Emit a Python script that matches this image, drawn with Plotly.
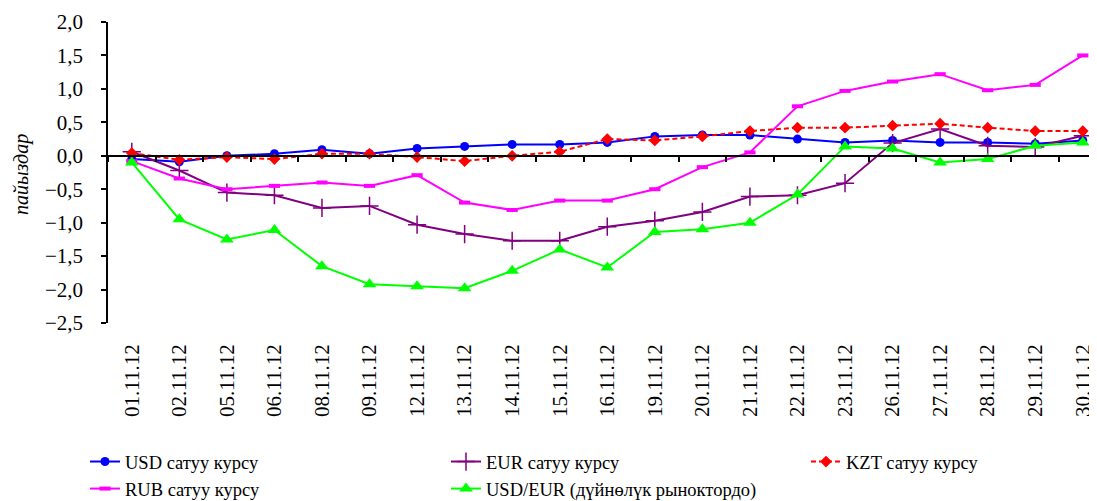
import plotly.graph_objects as go

dates = ['01.11.12', '02.11.12', '05.11.12', '06.11.12', '08.11.12', '09.11.12',
         '12.11.12', '13.11.12', '14.11.12', '15.11.12', '16.11.12', '19.11.12',
         '20.11.12', '21.11.12', '22.11.12', '23.11.12', '26.11.12', '27.11.12',
         '28.11.12', '29.11.12', '30.11.12']

usd = [-0.05, -0.09, 0.00, 0.03, 0.09, 0.03, 0.11, 0.14, 0.17, 0.17, 0.20, 0.29,
       0.31, 0.31, 0.25, 0.20, 0.23, 0.20, 0.20, 0.18, 0.23]
eur = [0.06, -0.22, -0.55, -0.59, -0.78, -0.75, -1.03, -1.17, -1.27, -1.27, -1.06,
       -0.97, -0.84, -0.61, -0.59, -0.41, 0.19, 0.40, 0.15, 0.13, 0.30]
kzt = [0.04, -0.06, -0.02, -0.05, 0.03, 0.03, -0.02, -0.08, 0.00, 0.06, 0.25, 0.23,
       0.29, 0.37, 0.42, 0.42, 0.45, 0.48, 0.42, 0.37, 0.37]
rub = [-0.08, -0.34, -0.50, -0.45, -0.40, -0.45, -0.29, -0.70, -0.81, -0.67, -0.67,
       -0.50, -0.17, 0.05, 0.74, 0.97, 1.11, 1.22, 0.98, 1.06, 1.50]
usdeur = [-0.10, -0.95, -1.25, -1.11, -1.65, -1.92, -1.95, -1.98, -1.72, -1.40, -1.67,
          -1.14, -1.10, -1.00, -0.58, 0.14, 0.11, -0.10, -0.05, 0.15, 0.20]

names = ['USD сатуу курсу', 'EUR сатуу курсу', 'KZT сатуу курсу',
         'RUB сатуу курсу', 'USD/EUR (дүйнөлүк рыноктордо)']
y_ticks = [2.0, 1.5, 1.0, 0.5, 0.0, -0.5, -1.0, -1.5, -2.0, -2.5]
y_title = 'пайыздар'

FONT = 'Liberation Serif, Times New Roman, serif'
OFF = 8                      # page body margin of the html page
W, H = 1097, 501
L = 108 - OFF
T = 22 - OFF
B = H - (323 - OFF)
step = 47.55
xr = [-0.5, -0.5 + (W - L) / step]

fig = go.Figure()
fig.add_trace(go.Scatter(x=dates, y=usd, name=names[0], mode='lines+markers',
                         line=dict(color='#0000FF', width=2),
                         marker=dict(symbol='circle', size=9, color='#0000FF'),
                         legend='legend'))
fig.add_trace(go.Scatter(x=dates, y=eur, name=names[1], mode='lines+markers',
                         line=dict(color='#800080', width=2),
                         marker=dict(symbol='cross-thin', size=13,
                                     line=dict(color='#800080', width=1.5)),
                         legend='legend2'))
fig.add_trace(go.Scatter(x=dates, y=kzt, name=names[2], mode='lines+markers',
                         line=dict(color='#FF0000', width=2, dash='5px,3px'),
                         marker=dict(symbol='diamond', size=9, color='#FF0000'),
                         legend='legend3'))
fig.add_trace(go.Scatter(x=dates, y=rub, name=names[3], mode='lines+markers',
                         line=dict(color='#FF00FF', width=2),
                         marker=dict(symbol='line-ew', size=8,
                                     line=dict(color='#FF00FF', width=4)),
                         legend='legend'))
fig.add_trace(go.Scatter(x=dates, y=usdeur, name=names[4], mode='lines+markers',
                         line=dict(color='#00FF00', width=2),
                         marker=dict(symbol='triangle-up', size=12, color='#00FF00'),
                         legend='legend2'))
# helper trace for the zero-crossing category axis
fig.add_trace(go.Scatter(x=dates, y=[None] * len(dates), xaxis='x2', mode='lines',
                         showlegend=False, hoverinfo='skip'))

PH = H - T - B
PW = W - L
ly = (H - B - (443 - OFF)) / PH
legend_common = dict(font=dict(family=FONT, size=18.5, color='black'),
                     bgcolor='rgba(0,0,0,0)', orientation='v',
                     yanchor='top', xanchor='left', tracegroupgap=0, y=ly)

fig.update_layout(
    width=W, height=H, autosize=False,
    margin=dict(l=L, r=0, t=T, b=B, pad=0, autoexpand=False),
    paper_bgcolor='white', plot_bgcolor='white',
    separators=', ',
    font=dict(family=FONT, size=21, color='black'),
    xaxis=dict(type='category', categoryorder='array', categoryarray=dates,
               range=xr, showline=False, showgrid=False, zeroline=False,
               automargin=False,
               ticks='', tickangle=-90, ticklabelstandoff=16,
               tickfont=dict(family=FONT, size=21, color='black')),
    xaxis2=dict(type='category', categoryorder='array', categoryarray=dates,
                range=xr, overlaying='x', anchor='free', position=2.5 / 4.5,
                side='bottom', showline=True, linecolor='black', linewidth=2,
                ticks='outside', ticklen=5, tickwidth=1.5, tickcolor='black',
                tickson='boundaries', showticklabels=False, showgrid=False,
                zeroline=False, automargin=False),
    yaxis=dict(range=[-2.5, 2.0], tickvals=y_ticks, tickformat='.1f',
               showline=True, linecolor='black', linewidth=1.5,
               ticks='outside', ticklen=5, tickwidth=1.5, tickcolor='black',
               showgrid=False, zeroline=False, ticklabelstandoff=14,
               automargin=False,
               tickfont=dict(family=FONT, size=21, color='black')),
    legend=dict(x=(85 - OFF - L) / PW, **legend_common),
    legend2=dict(x=(446 - OFF - L) / PW, **legend_common),
    legend3=dict(x=(806 - OFF - L) / PW, **legend_common),
    annotations=[dict(text='<i>' + y_title + '</i>', textangle=-90,
                      xref='paper', yref='paper', x=(21 - OFF - L) / PW,
                      y=(H - B - (175 - OFF)) / PH, xanchor='center',
                      yanchor='middle', showarrow=False,
                      font=dict(family=FONT, size=20, color='black'))],
    showlegend=True,
)

fig.write_html('out.html')
